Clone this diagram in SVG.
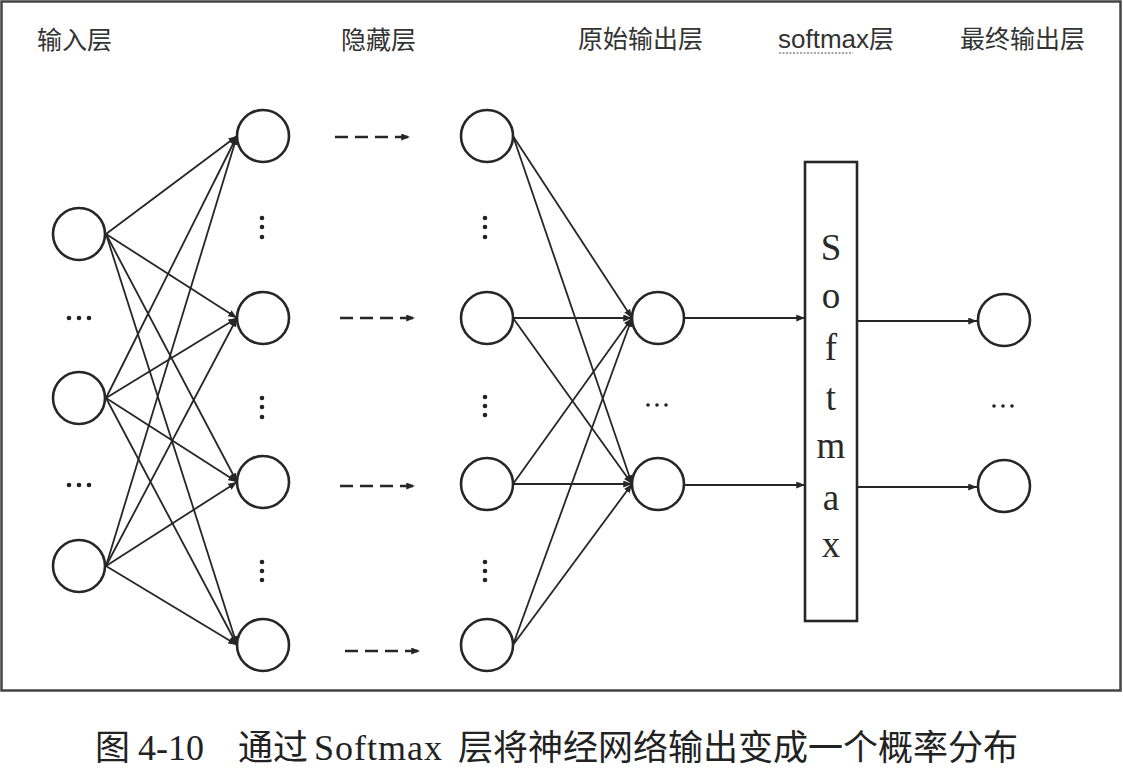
<svg xmlns="http://www.w3.org/2000/svg" width="1123" height="772" viewBox="0 0 1123 772">
<style>
.node{fill:#fff;stroke:#262626;stroke-width:2.6}
.edge{stroke:#262626;stroke-width:1.8;fill:none}
.dash{stroke:#262626;stroke-width:2.4;fill:none;stroke-dasharray:13 7}
.lbl{font-family:"Noto Sans CJK SC","Liberation Sans",sans-serif;font-size:25px;fill:#333}
.dot{fill:#222}
.sm{font-family:"Liberation Serif",serif;font-size:37px;fill:#2a2a2a;text-anchor:middle}
.cap{font-family:"Liberation Serif","Noto Sans CJK SC",serif;font-size:36px;fill:#222}
.capz{font-family:"Noto Sans CJK SC",sans-serif;font-size:35px;fill:#222}
</style>
<defs>
<marker id="ah" viewBox="0 0 10 8" refX="10" refY="4" markerWidth="9" markerHeight="7" markerUnits="userSpaceOnUse" orient="auto">
<path d="M0,0 L10,4 L0,8 Z" fill="#262626"/>
</marker>
</defs>
<rect x="0" y="0" width="1123" height="772" fill="#fff"/>
<rect x="1.5" y="1.5" width="1119" height="689" fill="none" stroke="#444" stroke-width="2.5"/>

<g id="labels">
<text class="lbl" x="37" y="49">输入层</text>
<text class="lbl" x="341" y="49">隐藏层</text>
<text class="lbl" x="578" y="48">原始输出层</text>
<text class="lbl" x="778" y="48"><tspan font-family="Liberation Sans,sans-serif" font-size="26">softmax</tspan>层</text>
<line x1="779" y1="53" x2="853" y2="53" stroke="#888" stroke-width="1.5" stroke-dasharray="2 1.5"/>
<text class="lbl" x="960" y="48">最终输出层</text>
</g>

<g id="connectors">
<line class="edge" x1="106" y1="234" x2="237" y2="136" marker-end="url(#ah)"/>
<line class="edge" x1="106" y1="234" x2="237" y2="318" marker-end="url(#ah)"/>
<line class="edge" x1="106" y1="234" x2="237" y2="482" marker-end="url(#ah)"/>
<line class="edge" x1="106" y1="234" x2="237" y2="645" marker-end="url(#ah)"/>
<line class="edge" x1="106" y1="398" x2="237" y2="136" marker-end="url(#ah)"/>
<line class="edge" x1="106" y1="398" x2="237" y2="318" marker-end="url(#ah)"/>
<line class="edge" x1="106" y1="398" x2="237" y2="482" marker-end="url(#ah)"/>
<line class="edge" x1="106" y1="398" x2="237" y2="645" marker-end="url(#ah)"/>
<line class="edge" x1="106" y1="566" x2="237" y2="136" marker-end="url(#ah)"/>
<line class="edge" x1="106" y1="566" x2="237" y2="318" marker-end="url(#ah)"/>
<line class="edge" x1="106" y1="566" x2="237" y2="482" marker-end="url(#ah)"/>
<line class="edge" x1="106" y1="566" x2="237" y2="645" marker-end="url(#ah)"/>
<line class="dash" x1="335" y1="137" x2="410" y2="137" marker-end="url(#ah)"/>
<line class="dash" x1="340" y1="318" x2="415" y2="318" marker-end="url(#ah)"/>
<line class="dash" x1="340" y1="486" x2="415" y2="486" marker-end="url(#ah)"/>
<line class="dash" x1="345" y1="651" x2="420" y2="651" marker-end="url(#ah)"/>
<line class="edge" x1="513" y1="136" x2="632" y2="318" marker-end="url(#ah)"/>
<line class="edge" x1="513" y1="136" x2="632" y2="484" marker-end="url(#ah)"/>
<line class="edge" x1="513" y1="318" x2="632" y2="318" marker-end="url(#ah)"/>
<line class="edge" x1="513" y1="318" x2="632" y2="484" marker-end="url(#ah)"/>
<line class="edge" x1="513" y1="484" x2="632" y2="318" marker-end="url(#ah)"/>
<line class="edge" x1="513" y1="484" x2="632" y2="484" marker-end="url(#ah)"/>
<line class="edge" x1="513" y1="645" x2="632" y2="318" marker-end="url(#ah)"/>
<line class="edge" x1="513" y1="645" x2="632" y2="484" marker-end="url(#ah)"/>
<line class="edge" x1="685" y1="318" x2="805" y2="318" marker-end="url(#ah)"/>
<line class="edge" x1="685" y1="485" x2="805" y2="485" marker-end="url(#ah)"/>
<line class="edge" x1="858" y1="321" x2="977" y2="321" marker-end="url(#ah)"/>
<line class="edge" x1="858" y1="487" x2="977" y2="487" marker-end="url(#ah)"/>
</g>

<g id="input-layer">
<circle class="node" cx="79" cy="234" r="26"/>
<circle class="node" cx="79" cy="398" r="26"/>
<circle class="node" cx="79" cy="566" r="26"/>
<circle class="dot" cx="69" cy="318" r="2.3"/><circle class="dot" cx="79" cy="318" r="2.3"/><circle class="dot" cx="89" cy="318" r="2.3"/>
<circle class="dot" cx="69" cy="485" r="2.3"/><circle class="dot" cx="79" cy="485" r="2.3"/><circle class="dot" cx="89" cy="485" r="2.3"/>
</g>

<g id="hidden-layer-1">
<circle class="node" cx="263" cy="136" r="26"/>
<circle class="node" cx="263" cy="318" r="26"/>
<circle class="node" cx="263" cy="482" r="26"/>
<circle class="node" cx="263" cy="645" r="26"/>
<circle class="dot" cx="262" cy="218" r="2.3"/><circle class="dot" cx="262" cy="227" r="2.3"/><circle class="dot" cx="262" cy="237" r="2.3"/>
<circle class="dot" cx="262" cy="398" r="2.3"/><circle class="dot" cx="262" cy="407" r="2.3"/><circle class="dot" cx="262" cy="417" r="2.3"/>
<circle class="dot" cx="262" cy="562" r="2.3"/><circle class="dot" cx="262" cy="571" r="2.3"/><circle class="dot" cx="262" cy="580" r="2.3"/>
</g>

<g id="hidden-layer-2">
<circle class="node" cx="487" cy="136" r="26"/>
<circle class="node" cx="487" cy="318" r="26"/>
<circle class="node" cx="487" cy="484" r="26"/>
<circle class="node" cx="487" cy="645" r="26"/>
<circle class="dot" cx="485" cy="218" r="2.3"/><circle class="dot" cx="485" cy="227" r="2.3"/><circle class="dot" cx="485" cy="237" r="2.3"/>
<circle class="dot" cx="485" cy="397" r="2.3"/><circle class="dot" cx="485" cy="406" r="2.3"/><circle class="dot" cx="485" cy="415" r="2.3"/>
<circle class="dot" cx="485" cy="562" r="2.3"/><circle class="dot" cx="485" cy="571" r="2.3"/><circle class="dot" cx="485" cy="580" r="2.3"/>
</g>

<g id="raw-output-layer">
<circle class="node" cx="658" cy="318" r="26"/>
<circle class="node" cx="658" cy="484" r="26"/>
<circle class="dot" cx="648" cy="405" r="1.8"/><circle class="dot" cx="657" cy="405" r="1.8"/><circle class="dot" cx="666" cy="405" r="1.8"/>
</g>

<g id="softmax-layer">
<rect x="805" y="162" width="52" height="459" fill="#fff" stroke="#262626" stroke-width="2.6"/>
<text class="sm" x="831" y="260">S</text>
<text class="sm" x="831" y="308">o</text>
<text class="sm" x="831" y="360">f</text>
<text class="sm" x="831" y="410">t</text>
<text class="sm" x="831" y="458">m</text>
<text class="sm" x="831" y="510">a</text>
<text class="sm" x="831" y="557">x</text>
</g>

<g id="final-output-layer">
<circle class="node" cx="1004" cy="320" r="26"/>
<circle class="node" cx="1004" cy="486" r="26"/>
<circle class="dot" cx="994" cy="406" r="1.8"/><circle class="dot" cx="1003" cy="406" r="1.8"/><circle class="dot" cx="1012" cy="406" r="1.8"/>
</g>

<g id="caption">
<text class="capz" x="95" y="760">图</text>
<text class="cap" x="138" y="760" font-size="38">4-10</text>
<text class="capz" x="238" y="760">通过</text>
<text class="cap" x="314" y="760" font-size="38" textLength="128">Softmax</text>
<text class="capz" x="458" y="760">层将神经网络输出变成一个概率分布</text>
</g>
</svg>
